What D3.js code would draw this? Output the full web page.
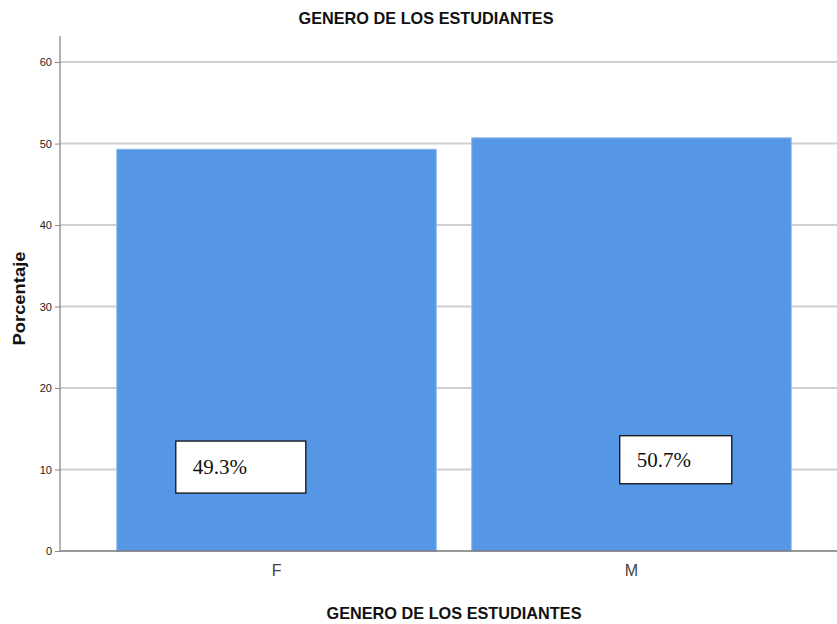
<!DOCTYPE html>
<html><head><meta charset="utf-8">
<script src="https://cdn.jsdelivr.net/npm/d3@7"></script>
<style>
body{margin:0;background:#fff;}
svg{display:block;}
</style></head>
<body>
<script>
const categories = ["F", "M"];
const values = [49.3, 50.7];
const labels = ["49.3%", "50.7%"];
const yTicks = [0, 10, 20, 30, 40, 50, 60];
const title = "GENERO DE LOS ESTUDIANTES";
const xTitle = "GENERO DE LOS ESTUDIANTES";
const yTitle = "Porcentaje";

const W = 837, H = 624;
const narrow = "'Liberation Sans Narrow', 'Arial Narrow', 'Liberation Sans', Arial, sans-serif";
const svg = d3.select("body").append("svg").attr("width", W).attr("height", H);

const y = d3.scaleLinear().domain([0, 63.2]).range([551, 36]);
const x = d3.scaleBand().domain(categories).range([60, 848]).paddingInner(0.1).paddingOuter(0.16);

// gridlines
svg.append("g").selectAll("line").data(yTicks.filter(d => d > 0)).join("line")
  .attr("x1", 60).attr("x2", W).attr("y1", d => y(d)).attr("y2", d => y(d))
  .attr("stroke", "#cfcfcf").attr("stroke-width", 2);

// bars
svg.append("g").selectAll("rect").data(values).join("rect")
  .attr("x", (d, i) => x(categories[i]))
  .attr("y", d => y(d))
  .attr("width", x.bandwidth())
  .attr("height", d => y(0) - y(d))
  .attr("fill", "#5596e5")
  .attr("stroke", "#8cb7ee").attr("stroke-width", 1);

// y axis
const yAxis = d3.axisLeft(y).tickValues(yTicks).tickSize(5).tickPadding(3).tickFormat(d3.format("d"));
const gy = svg.append("g").attr("transform", "translate(60,0)").call(yAxis);
gy.select(".domain").attr("d", `M0,${y(63.2)}V${y(0)}`).attr("stroke", "#8a8a8a").attr("stroke-width", 1.3);
gy.selectAll(".tick line").attr("stroke", "#8a8a8a");
gy.selectAll(".tick text").attr("font-family", narrow).attr("font-size", 11).attr("fill", "#222");

// x axis
const xAxis = d3.axisBottom(x).tickSize(0).tickPadding(14);
const gx = svg.append("g").attr("transform", `translate(0,${y(0)})`).call(xAxis);
gx.select(".domain").attr("d", `M60,0H${W}`).attr("stroke", "#777").attr("stroke-width", 1.5);
gx.selectAll(".tick text").attr("font-family", "'Liberation Sans', Arial, sans-serif")
  .attr("font-size", 16).attr("font-weight", 300).attr("fill", "#444");

// label boxes
const boxes = [
  {dx: 59, w: 130, h: 52, v: 10.3},
  {dx: 148, w: 112, h: 48, v: 11.2}
];
const lg = svg.append("g");
values.forEach((v, i) => {
  const b = boxes[i];
  const bx = x(categories[i]) + b.dx;
  const cy = y(b.v);
  lg.append("rect").attr("x", bx).attr("y", cy - b.h / 2).attr("width", b.w).attr("height", b.h)
    .attr("fill", "#fff").attr("stroke", "#111").attr("stroke-width", 1.3);
  lg.append("text").attr("x", bx + 17).attr("y", cy + 7)
    .attr("font-family", "'Liberation Serif', 'Times New Roman', serif").attr("font-size", 21)
    .attr("fill", "#111").text(labels[i]);
});

// titles
svg.append("text").attr("x", 426).attr("y", 24).attr("text-anchor", "middle")
  .attr("textLength", 255).attr("lengthAdjust", "spacingAndGlyphs")
  .attr("font-family", narrow).attr("font-weight", "bold").attr("font-size", 17).attr("fill", "#111").text(title);
svg.append("text").attr("x", 454).attr("y", 619).attr("text-anchor", "middle")
  .attr("textLength", 255).attr("lengthAdjust", "spacingAndGlyphs")
  .attr("font-family", narrow).attr("font-weight", "bold").attr("font-size", 17).attr("fill", "#111").text(xTitle);
svg.append("text").attr("transform", `translate(25,${(y(0)+y(63.2))/2 + 5}) rotate(-90)`).attr("text-anchor", "middle")
  .attr("textLength", 94).attr("lengthAdjust", "spacingAndGlyphs")
  .attr("font-family", "'Liberation Sans', Arial, sans-serif").attr("font-weight", "bold").attr("font-size", 16.5)
  .attr("fill", "#111").text(yTitle);
</script>
</body></html>
